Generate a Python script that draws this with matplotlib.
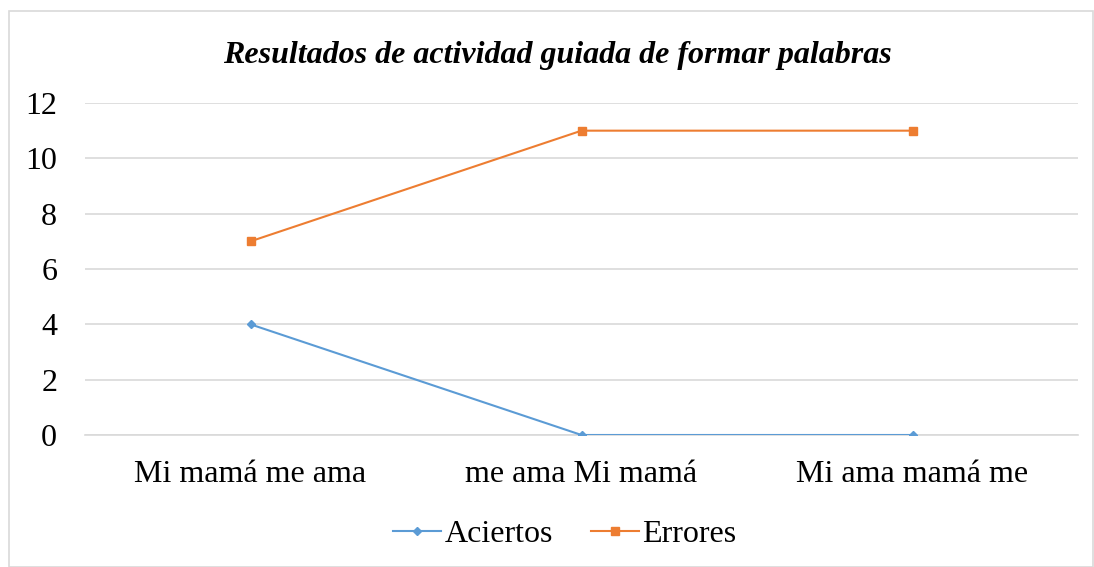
import matplotlib.pyplot as plt
from matplotlib.patches import Rectangle

categories = ["Mi mamá me ama", "me ama Mi mamá", "Mi ama mamá me"]
aciertos = [4, 0, 0]
errores = [7, 11, 11]
y_ticks = [0, 2, 4, 6, 8, 10, 12]

plt.rcParams["font.family"] = ["Liberation Serif", "DejaVu Serif"]

W, H = 1094, 567
fig = plt.figure(figsize=(W / 100, H / 100), dpi=100)

# outer chart border
fig.patches.append(Rectangle((9 / W, 0), (W - 10) / W, (H - 11) / H,
                             transform=fig.transFigure, fill=False,
                             edgecolor="#d9d9d9", linewidth=1.2))

ax = fig.add_axes([85 / W, (H - 435) / H, (1078 - 85) / W, (435 - 103) / H])

x = range(len(categories))
ax.plot(x, aciertos, color="#5B9BD5", marker="D", markersize=4.5,
        linewidth=1.5, label="Aciertos", zorder=3)
ax.plot(x, errores, color="#ED7D31", marker="s", markersize=6,
        linewidth=1.5, label="Errores", zorder=3)

ax.set_xlim(-0.5, 2.5)
ax.set_ylim(0, 12)
ax.set_yticks(y_ticks)
ax.set_xticks(list(x))
ax.set_xticklabels(categories)
ax.tick_params(axis="both", length=0, labelsize=23, colors="black")
ax.tick_params(axis="x", pad=18)
ax.tick_params(axis="y", pad=20)
ax.grid(axis="y", color="#d9d9d9", linewidth=1.2)
ax.set_axisbelow(True)
for s in ["top", "right", "left"]:
    ax.spines[s].set_visible(False)
ax.spines["bottom"].set_color("#d9d9d9")
ax.spines["bottom"].set_linewidth(1.2)

fig.text(557 / W, 1 - 55 / H, "Resultados de actividad guiada de formar palabras",
         ha="center", va="center", fontsize=23, fontweight="bold", fontstyle="italic")

fig.legend(loc="center", bbox_to_anchor=(565 / W, 1 - 534 / H), ncol=2,
           frameon=False, fontsize=23, handlelength=1.5, columnspacing=1.2,
           handletextpad=0.1)

fig.savefig("out.png", dpi=100)
